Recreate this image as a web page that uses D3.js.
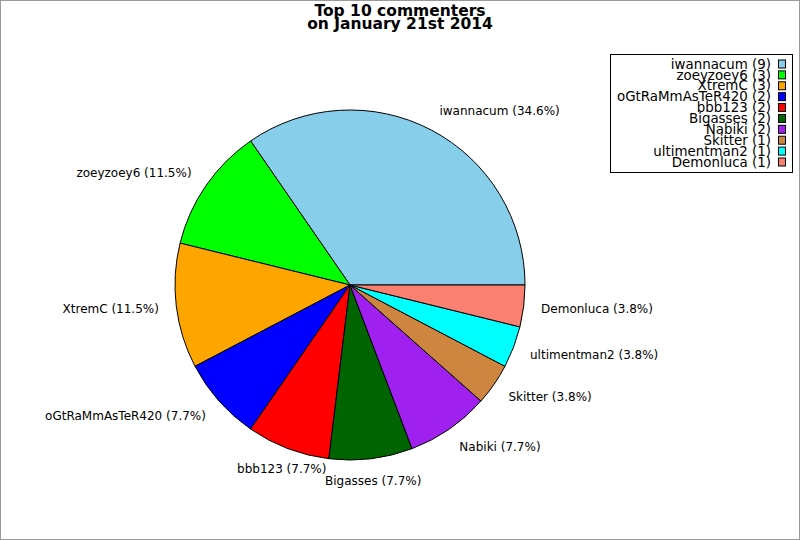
<!DOCTYPE html>
<html>
<head>
<meta charset="utf-8">
<script src="https://cdn.jsdelivr.net/npm/d3@7"></script>
<style>
  body { margin: 0; background: #fff; }
  text { font-family: "DejaVu Sans", sans-serif; }
</style>
</head>
<body>
<div id="chart-area"></div>
<script>
var width = 800,
    height = 540;

// data
var names = ["iwannacum", "zoeyzoey6", "XtremC", "oGtRaMmAsTeR420", "bbb123",
             "Bigasses", "Nabiki", "Skitter", "ultimentman2", "Demonluca"];
var counts = [9, 3, 3, 2, 2, 2, 2, 1, 1, 1];
var colors = ["#87ceeb", "#00ff00", "#ffa500", "#0000ff", "#ff0000",
              "#006400", "#a020f0", "#cd853f", "#00ffff", "#fa8072"];
var titleLines = ["Top 10 commenters", "on January 21st 2014"];

var total = d3.sum(counts);
var data = names.map((n, i) => ({ name: n, count: counts[i], color: colors[i] }));

var svg = d3.select("#chart-area").append("svg")
    .attr("width", width)
    .attr("height", height);

svg.append("rect")
    .attr("x", 0.5).attr("y", 0.5)
    .attr("width", width - 1).attr("height", height - 1)
    .attr("fill", "#fff")
    .attr("stroke", "#999");

// title
svg.append("g").selectAll("text")
  .data(titleLines)
  .enter().append("text")
    .attr("x", 400)
    .attr("y", (d, i) => 15.5 + i * 13.5)
    .attr("text-anchor", "middle")
    .style("font-weight", "bold")
    .style("font-size", "15.5px")
    .text(d => d);

// pie, starting at 3 o'clock going counterclockwise
var cx = 350, cy = 285, r = 175;
var pie = d3.pie()
    .value(d => d.count)
    .sort(null)
    .startAngle(Math.PI / 2)
    .endAngle(Math.PI / 2 - 2 * Math.PI);

var arc = d3.arc().innerRadius(0).outerRadius(r);

var g = svg.append("g").attr("transform", "translate(" + cx + "," + cy + ")");
var arcs = pie(data);

g.selectAll("path")
  .data(arcs)
  .enter().append("path")
    .attr("d", arc)
    .attr("fill", d => d.data.color)
    .attr("stroke", "#000")
    .attr("stroke-width", 1);

var fmt = d3.format(".1f");
g.selectAll("text.lbl")
  .data(arcs)
  .enter().append("text")
    .attr("class", "lbl")
    .each(function(d) {
      var a = (d.startAngle + d.endAngle) / 2;
      var Rx = r * 1.1, Ry = r * 1.125;
      var x = Math.sin(a) * Rx, y = -Math.cos(a) * Ry;
      // labels right under the pie are centred
      var under = y > 0 && Math.abs(x) < 0.4 * Rx;
      d3.select(this)
        .attr("x", x).attr("y", y)
        .attr("text-anchor", under ? "middle" : (x > 0 ? "start" : "end"));
    })
    .attr("dy", "0.35em")
    .style("font-size", "12px")
    .text(d => d.data.name + " (" + fmt(d.data.count / total * 100) + "%)");

// legend
var leg = svg.append("g");
leg.append("rect")
    .attr("x", 610.5).attr("y", 54.5)
    .attr("width", 182).attr("height", 118)
    .attr("fill", "#fff")
    .attr("stroke", "#000");

var rowY = d3.scaleLinear().domain([0, 9]).range([64, 162]);

var rows = leg.selectAll("g.row")
  .data(data)
  .enter().append("g")
    .attr("class", "row");

rows.append("text")
    .attr("x", 771)
    .attr("y", (d, i) => rowY(i))
    .attr("dy", "0.35em")
    .attr("text-anchor", "end")
    .style("font-size", "13.4px")
    .text(d => d.name + " (" + d.count + ")");

rows.append("rect")
    .attr("x", 778.5)
    .attr("y", (d, i) => rowY(i) - 4)
    .attr("width", 7).attr("height", 8)
    .attr("fill", d => d.color)
    .attr("stroke", "#000");
</script>
</body>
</html>
